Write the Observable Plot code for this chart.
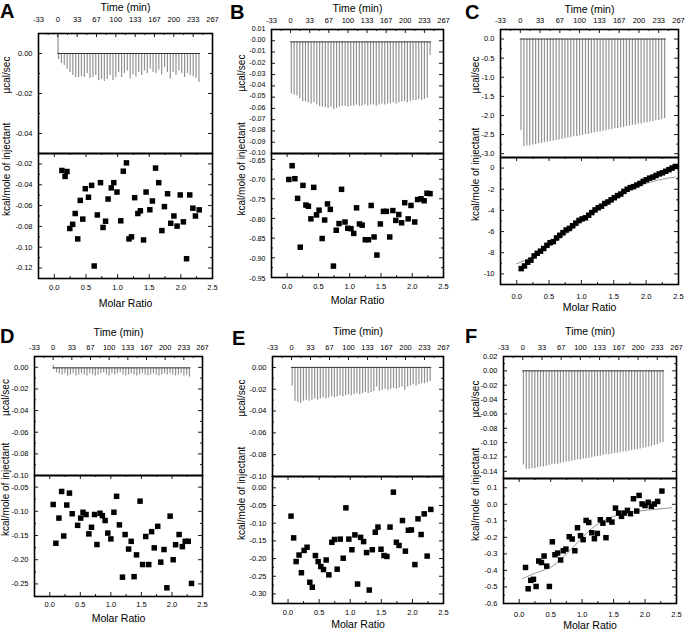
<!DOCTYPE html>
<html><head><meta charset="utf-8">
<script src="https://cdn.jsdelivr.net/npm/d3@7"></script>
<script src="https://cdn.jsdelivr.net/npm/@observablehq/plot@0.6"></script>
<style>
body{margin:0;background:#fff;}
#fig{position:relative;width:685px;height:631px;overflow:hidden;font-family:Arial,"Liberation Sans",sans-serif;background:#fff;}
#fig svg{position:absolute;left:0;top:0;}
.lbl{position:absolute;font-weight:bold;font-size:20px;line-height:20px;font-family:Arial,"Liberation Sans",sans-serif;}
</style></head><body><div id="fig"></div>
<script>
// ---------- shared axis data ----------
const timeTicks = [-33.33, 0, 33.33, 66.67, 100, 133.33, 166.67, 200, 233.33, 266.67];
const timeMinor = [-16.67, 16.67, 50, 83.33, 116.67, 150, 183.33, 216.67, 250];
const ratioTicks = [0, 0.5, 1, 1.5, 2, 2.5];
const ratioMinor = [0.25, 0.75, 1.25, 1.75, 2.25];
const injTimes = [1.2,6.1,11.1,16.0,21.0,25.9,30.8,35.8,40.7,45.7,50.6,55.5,60.5,65.4,70.4,75.3,80.2,85.2,90.1,95.1,100.0,104.9,109.9,114.8,119.8,124.7,129.6,134.6,139.5,144.5,149.4,154.3,159.3,164.2,169.2,174.1,179.0,184.0,188.9,193.9,198.8,203.7,208.7,213.6,218.6,223.5,228.4,233.4,238.3,243.3];

// ---------- raw thermograms: peak depth per injection (µcal/sec) ----------
const rawA = [-0.003,-0.005,-0.006,-0.008,-0.0095,-0.011,-0.012,-0.012,-0.0115,-0.012,-0.010,-0.0125,-0.012,-0.011,-0.0135,-0.013,-0.014,-0.013,-0.011,-0.0135,-0.012,-0.0095,-0.012,-0.010,-0.0087,-0.0128,-0.0107,-0.0117,-0.0095,-0.011,-0.0087,-0.010,-0.0078,-0.0095,-0.010,-0.0083,-0.0107,-0.007,-0.0095,-0.0128,-0.0095,-0.011,-0.0087,-0.010,-0.012,-0.010,-0.011,-0.0118,-0.0125,-0.0145];
const rawB = [-0.047,-0.048,-0.049,-0.0515,-0.054,-0.054,-0.055,-0.056,-0.055,-0.057,-0.0585,-0.059,-0.059,-0.06,-0.059,-0.061,-0.060,-0.059,-0.058,-0.058,-0.059,-0.058,-0.058,-0.057,-0.058,-0.058,-0.057,-0.058,-0.057,-0.057,-0.058,-0.057,-0.056,-0.057,-0.056,-0.056,-0.055,-0.056,-0.055,-0.054,-0.054,-0.055,-0.054,-0.053,-0.053,-0.052,-0.053,-0.052,-0.051,-0.013];
const rawC = [-2.40,-2.81,-2.80,-2.79,-2.77,-2.76,-2.74,-2.73,-2.71,-2.70,-2.68,-2.67,-2.65,-2.64,-2.62,-2.61,-2.59,-2.58,-2.56,-2.55,-2.53,-2.52,-2.50,-2.49,-2.47,-2.46,-2.44,-2.43,-2.41,-2.40,-2.38,-2.37,-2.35,-2.34,-2.32,-2.31,-2.29,-2.28,-2.26,-2.25,-2.23,-2.22,-2.20,-2.19,-2.17,-2.16,-2.14,-2.13,-2.11,-2.08];
const rawD = [-0.002,-0.005,-0.006,-0.007,-0.006,-0.008,-0.007,-0.006,-0.008,-0.007,-0.006,-0.007,-0.008,-0.006,-0.007,-0.008,-0.007,-0.006,-0.005,-0.007,-0.008,-0.006,-0.007,-0.006,-0.005,-0.007,-0.008,-0.007,-0.006,-0.007,-0.008,-0.007,-0.006,-0.007,-0.008,-0.007,-0.006,-0.007,-0.008,-0.007,-0.006,-0.007,-0.006,-0.007,-0.008,-0.007,-0.006,-0.008,-0.007,-0.009];
const rawE = [-0.017,-0.031,-0.032,-0.033,-0.031,-0.030,-0.031,-0.030,-0.029,-0.030,-0.029,-0.028,-0.029,-0.028,-0.027,-0.028,-0.027,-0.026,-0.027,-0.026,-0.025,-0.026,-0.025,-0.024,-0.025,-0.024,-0.023,-0.024,-0.023,-0.022,-0.018,-0.022,-0.021,-0.020,-0.021,-0.020,-0.019,-0.020,-0.019,-0.018,-0.021,-0.018,-0.017,-0.016,-0.017,-0.016,-0.015,-0.015,-0.014,-0.013];
const rawF = [-0.131,-0.137,-0.137,-0.136,-0.136,-0.135,-0.134,-0.134,-0.133,-0.132,-0.131,-0.130,-0.130,-0.129,-0.128,-0.127,-0.127,-0.126,-0.125,-0.124,-0.124,-0.123,-0.122,-0.122,-0.121,-0.120,-0.119,-0.119,-0.118,-0.117,-0.117,-0.116,-0.115,-0.115,-0.114,-0.113,-0.113,-0.112,-0.111,-0.110,-0.110,-0.109,-0.108,-0.107,-0.106,-0.105,-0.104,-0.103,-0.101,-0.100];
const baseA = 0, baseB = -0.001, baseC = 0, baseD = -0.0005, baseE = 0, baseF = 0;
// upward start-up spikes at the beginning of a run (time, value)
const upTimesA = [0.3], upValsA = [0.009];
const upTimesD = [0.3], upValsD = [0.002];

// ---------- integrated heats (kcal/mole of injectant) vs molar ratio ----------
const ratioA = [0.12,0.17,0.20,0.245,0.29,0.33,0.37,0.41,0.45,0.49,0.54,0.59,0.63,0.68,0.73,0.77,0.81,0.85,0.90,0.94,0.99,1.05,1.09,1.14,1.18,1.22,1.27,1.32,1.36,1.41,1.45,1.51,1.55,1.60,1.65,1.70,1.74,1.79,1.84,1.89,1.94,1.99,2.04,2.09,2.14,2.19,2.23,2.29];
const heatA = [-0.0263,-0.032,-0.0273,-0.082,-0.078,-0.0676,-0.092,-0.055,-0.073,-0.0438,-0.052,-0.0406,-0.118,-0.069,-0.038,-0.081,-0.075,-0.0537,-0.043,-0.038,-0.047,-0.0746,-0.027,-0.019,-0.092,-0.090,-0.0524,-0.0676,-0.065,-0.093,-0.047,-0.064,-0.0556,-0.024,-0.038,-0.084,-0.061,-0.0486,-0.077,-0.070,-0.0797,-0.0498,-0.0756,-0.111,-0.0498,-0.0625,-0.070,-0.0641];
const ratioB = [0.027,0.08,0.124,0.167,0.21,0.253,0.30,0.34,0.38,0.425,0.47,0.51,0.56,0.60,0.645,0.69,0.74,0.785,0.83,0.87,0.925,0.97,1.02,1.065,1.11,1.156,1.20,1.25,1.30,1.344,1.39,1.435,1.49,1.54,1.586,1.64,1.69,1.737,1.785,1.83,1.88,1.935,1.98,2.04,2.086,2.14,2.19,2.236,2.285];
const heatB = [-0.701,-0.666,-0.699,-0.749,-0.873,-0.716,-0.766,-0.769,-0.801,-0.721,-0.791,-0.779,-0.851,-0.804,-0.763,-0.777,-0.921,-0.83,-0.813,-0.726,-0.809,-0.825,-0.826,-0.838,-0.773,-0.814,-0.817,-0.854,-0.854,-0.767,-0.847,-0.893,-0.814,-0.782,-0.782,-0.847,-0.780,-0.805,-0.79,-0.811,-0.76,-0.801,-0.767,-0.809,-0.752,-0.75,-0.755,-0.736,-0.737];
const ratioC = [0.07,0.12,0.17,0.22,0.27,0.318,0.368,0.417,0.467,0.516,0.566,0.616,0.665,0.715,0.764,0.814,0.864,0.913,0.963,1.012,1.062,1.112,1.161,1.211,1.26,1.31,1.36,1.409,1.459,1.508,1.558,1.608,1.657,1.707,1.756,1.806,1.856,1.905,1.955,2.004,2.054,2.104,2.153,2.203,2.252,2.302,2.352,2.401,2.451];
const heatC = [-9.5,-9.25,-8.9,-8.7,-8.3,-8.05,-7.85,-7.6,-7.3,-7.05,-6.95,-6.6,-6.35,-6.1,-5.85,-5.7,-5.45,-5.2,-4.95,-4.8,-4.7,-4.45,-4.2,-3.95,-3.75,-3.6,-3.35,-3.2,-3.0,-2.8,-2.6,-2.45,-2.2,-2.0,-1.85,-1.75,-1.6,-1.45,-1.25,-1.1,-0.95,-0.85,-0.7,-0.55,-0.45,-0.3,-0.15,0.0,0.15];
const fitCx = [0.0,0.25,0.5,0.75,1.0,1.25,1.5,1.75,2.0,2.25,2.45];
const fitCy = [-9.05,-8.35,-7.4,-6.3,-5.1,-3.95,-2.95,-2.05,-1.45,-1.05,-0.85];
const ratioD = [0.056,0.10,0.15,0.194,0.228,0.278,0.322,0.367,0.456,0.506,0.544,0.594,0.64,0.683,0.733,0.772,0.822,0.861,0.906,0.95,1.0,1.05,1.094,1.14,1.19,1.233,1.29,1.333,1.38,1.42,1.478,1.52,1.57,1.62,1.667,1.71,1.767,1.817,1.87,1.917,1.97,2.02,2.06,2.117,2.17,2.217,2.267,2.32];
const heatD = [-0.0859,-0.166,-0.114,-0.059,-0.151,-0.087,-0.0624,-0.105,-0.129,-0.114,-0.102,-0.1066,-0.1466,-0.133,-0.1066,-0.1686,-0.104,-0.109,-0.119,-0.145,-0.157,-0.102,-0.069,-0.128,-0.236,-0.148,-0.178,-0.162,-0.235,-0.19,-0.079,-0.21,-0.152,-0.21,-0.142,-0.1755,-0.131,-0.205,-0.179,-0.258,-0.11,-0.2,-0.169,-0.148,-0.173,-0.162,-0.162,-0.249];
const ratioE = [0.048,0.09,0.13,0.177,0.215,0.258,0.306,0.35,0.39,0.44,0.484,0.527,0.57,0.613,0.656,0.704,0.747,0.79,0.84,0.887,0.93,0.978,1.027,1.075,1.118,1.167,1.215,1.263,1.306,1.355,1.403,1.446,1.495,1.543,1.59,1.64,1.694,1.742,1.785,1.84,1.887,1.935,1.984,2.04,2.09,2.14,2.19,2.237,2.296];
const heatE = [-0.080,-0.1415,-0.2085,-0.19,-0.24,-0.177,-0.168,-0.267,-0.281,-0.1915,-0.2085,-0.2226,-0.231,-0.204,-0.246,-0.154,-0.146,-0.230,-0.145,-0.199,-0.0566,-0.145,-0.175,-0.133,-0.272,-0.140,-0.152,-0.183,-0.289,-0.175,-0.1255,-0.111,-0.1736,-0.1915,-0.194,-0.111,-0.0123,-0.154,-0.163,-0.0925,-0.179,-0.12,-0.119,-0.217,-0.0877,-0.132,-0.0736,-0.193,-0.061];
const ratioF = [0.1,0.142,0.184,0.226,0.268,0.31,0.353,0.395,0.437,0.479,0.526,0.568,0.61,0.658,0.7,0.742,0.795,0.842,0.884,0.926,0.974,1.016,1.063,1.105,1.153,1.195,1.242,1.289,1.33,1.379,1.426,1.474,1.53,1.58,1.626,1.668,1.72,1.768,1.816,1.868,1.905,1.953,2.0,2.05,2.1,2.147,2.2,2.268];
const heatF = [-0.382,-0.511,-0.46,-0.454,-0.497,-0.343,-0.352,-0.313,-0.374,-0.497,-0.227,-0.305,-0.295,-0.337,-0.281,-0.271,-0.196,-0.21,-0.281,-0.142,-0.19,-0.214,-0.0976,-0.11,-0.172,-0.208,-0.176,-0.0935,-0.114,-0.202,-0.0935,-0.1077,-0.023,-0.053,-0.073,-0.053,-0.037,-0.057,0.0335,-0.041,0.0536,0.002,-0.0077,0.012,-0.012,0.002,0.0173,0.08];
const fitFx = [0.05,0.3,0.5,0.7,0.9,1.1,1.3,1.5,1.8,2.1,2.42];
const fitFy = [-0.45,-0.41,-0.38,-0.32,-0.243,-0.164,-0.108,-0.073,-0.047,-0.033,-0.021];

// ---------- axis tick values ----------
const rawTicksA = [0, -0.02, -0.04], rawMinorA = [0.01, -0.01, -0.03, -0.05];
const heatTicksA = [-0.02,-0.04,-0.06,-0.08,-0.10,-0.12], heatMinorA = [-0.03,-0.05,-0.07,-0.09,-0.11];
const rawTicksB = [0.01,0,-0.01,-0.02,-0.03,-0.04,-0.05,-0.06,-0.07,-0.08,-0.09,-0.10], rawMinorB = [];
const heatTicksB = [-0.65,-0.70,-0.75,-0.80,-0.85,-0.90,-0.95], heatMinorB = [-0.675,-0.725,-0.775,-0.825,-0.875,-0.925];
const rawTicksC = [0,-0.5,-1,-1.5,-2,-2.5,-3], rawMinorC = [-0.25,-0.75,-1.25,-1.75,-2.25,-2.75];
const heatTicksC = [0,-2,-4,-6,-8,-10], heatMinorC = [1,-1,-3,-5,-7,-9,-11];
const rawTicksD = [0,-0.02,-0.04,-0.06,-0.08,-0.10], rawMinorD = [0.01,-0.01,-0.03,-0.05,-0.07,-0.09];
const heatTicksD = [-0.05,-0.10,-0.15,-0.20,-0.25], heatMinorD = [-0.075,-0.125,-0.175,-0.225];
const rawTicksE = [0,-0.02,-0.04,-0.06,-0.08,-0.10], rawMinorE = [0.01,-0.01,-0.03,-0.05,-0.07,-0.09];
const heatTicksE = [0,-0.05,-0.10,-0.15,-0.20,-0.25,-0.30], heatMinorE = [0.025,-0.025,-0.075,-0.125,-0.175,-0.225,-0.275];
const rawTicksF = [0.02,0,-0.02,-0.04,-0.06,-0.08,-0.10,-0.12,-0.14], rawMinorF = [0.01,-0.01,-0.03,-0.05,-0.07,-0.09,-0.11,-0.13];
const heatTicksF = [0.1,0,-0.1,-0.2,-0.3,-0.4,-0.5,-0.6], heatMinorF = [0.05,-0.05,-0.15,-0.25,-0.35,-0.45,-0.55];

// ---------- layout (pixel geometry of each panel) ----------
const W = 685, H = 631;
// L,R: frame x; T: top of raw plot; M: divider; B: bottom of heat plot
// tty: time title y, tly: time tick label y, mly: ratio tick label y, mty: ratio title y, ytx: y-title x
const panels = [
  {id:"A", L:38, R:212, T:33, M:153, B:278, lx:0, ly:1, tty:7, tly:19, mly:287, mty:303, ytx:6, yfs:7.5, rdy:0, hdy:0,
   raw:rawA, base:baseA, up:[upTimesA, upValsA], rawDom:[-0.05,0.01], rT:rawTicksA, rM:rawMinorA, rd:2,
   rx:ratioA, hy:heatA, hDom:[-0.13,-0.01], hT:heatTicksA, hM:heatMinorA, hd:2},
  {id:"B", L:271, R:443, T:29, M:153, B:277, lx:230, ly:2, tty:8, tly:20, mly:286, mty:300, ytx:241, yfs:7.1, rdy:-1, hdy:1,
   raw:rawB, base:baseB, rawDom:[-0.10,0.01], rT:rawTicksB, rM:rawMinorB, rd:2,
   rx:ratioB, hy:heatB, hDom:[-0.95,-0.635], hT:heatTicksB, hM:heatMinorB, hd:2},
  {id:"C", L:500, R:678, T:29, M:157, B:284, lx:465, ly:2, tty:9, tly:20, mly:296, mty:307, ytx:475, yfs:7.5, rdy:0, hdy:0,
   raw:rawC, base:baseC, rawDom:[-3.1,0.25], rT:rawTicksC, rM:rawMinorC, rd:1,
   rx:ratioC, hy:heatC, hDom:[-11,1], hT:heatTicksC, hM:heatMinorC, hd:0, fx:fitCx, fy:fitCy},
  {id:"D", L:34, R:202, T:356, M:475, B:596, lx:0, ly:326, tty:332, tly:347, mly:604, mty:618, ytx:5, yfs:7.5, rdy:0, hdy:0,
   raw:rawD, base:baseD, up:[upTimesD, upValsD], rawDom:[-0.10,0.01], rT:rawTicksD, rM:rawMinorD, rd:2,
   rx:ratioD, hy:heatD, hDom:[-0.276,-0.026], hT:heatTicksD, hM:heatMinorD, hd:2},
  {id:"E", L:272, R:443, T:356, M:476, B:603, lx:232, ly:328, tty:331, tly:347, mly:612, mty:624, ytx:241, yfs:7.5, rdy:0, hdy:0,
   raw:rawE, base:baseE, rawDom:[-0.10,0.01], rT:rawTicksE, rM:rawMinorE, rd:2,
   rx:ratioE, hy:heatE, hDom:[-0.327,0.032], hT:heatTicksE, hM:heatMinorE, hd:2},
  {id:"F", L:503, R:676, T:356, M:478, B:603, lx:465, ly:326, tty:331, tly:347, mly:614, mty:625, ytx:475, yfs:7.5, rdy:0, hdy:0,
   raw:rawF, base:baseF, rawDom:[-0.15,0.02], rT:rawTicksF, rM:rawMinorF, rd:2,
   rx:ratioF, hy:heatF, hDom:[-0.6,0.156], hT:heatTicksF, hM:heatMinorF, hd:1, fx:fitFx, fy:fitFy}
];

const FONT = "Arial, 'Liberation Sans', sans-serif";
const baseStyle = {background:"transparent", overflow:"visible", fontFamily:FONT, fontSize:"7.5px", color:"#000"};
const fmt = d => v => v.toFixed(d);

function xTicksIn(vals, innerH, len, where) {
  return Plot.tickX(vals, {x: d => d, stroke:"#000", strokeWidth:0.9,
    ...(where === "bottom" ? {insetTop: innerH - len} : {insetBottom: innerH - len})});
}
function yTicksIn(vals, innerW, len, where) {
  return Plot.tickY(vals, {y: d => d, stroke:"#000", strokeWidth:0.9,
    ...(where === "left" ? {insetRight: innerW - len} : {insetLeft: innerW - len})});
}

function topPlot(p) {
  const iw = p.R - p.L, ih = p.M - p.T;
  const peaks = p.raw.map((d, i) => ({t: injTimes[i], d}));
  const ups = p.up ? p.up[0].map((t, i) => ({t, d: p.up[1][i]})) : [];
  return Plot.plot({
    width: W, height: H,
    marginLeft: p.L, marginRight: W - p.R, marginTop: p.T, marginBottom: H - p.M,
    style: baseStyle,
    x: {domain: [-33.33, 266.67]},
    y: {domain: p.rawDom},
    marks: [
      Plot.ruleX(peaks, {x: "t", y1: p.base, y2: "d", stroke: "#929292", strokeWidth: 1.2}),
      Plot.ruleX(ups, {x: "t", y1: p.base, y2: "d", stroke: "#929292", strokeWidth: 1.2}),
      Plot.ruleY([p.base], {x1: 0, x2: 246, stroke: "#222", strokeWidth: 0.9}),
      xTicksIn(timeTicks, ih, 4, "top"), xTicksIn(timeMinor, ih, 2, "top"),
      yTicksIn(p.rT, iw, 4, "left"), yTicksIn(p.rM, iw, 2, "left"),
      yTicksIn(p.rT, iw, 4, "right"), yTicksIn(p.rM, iw, 2, "right"),
      Plot.axisX(timeTicks, {anchor: "top", tickSize: 0, tickPadding: 0, lineAnchor: "middle", dy: p.tly - p.T, tickFormat: d => String(Math.round(d)), label: null, fontSize: 7.5}),
      Plot.axisY(p.rT, {anchor: "left", tickSize: 0, tickPadding: 6, dy: p.rdy, tickFormat: fmt(p.rd), label: null, fontSize: p.yfs}),
      Plot.frame({stroke: "#000", strokeWidth: 1.6}),
      Plot.text(["Time (min)"], {frameAnchor: "top", lineAnchor: "middle", dy: p.tty - p.T, fontSize: 10.5}),
      Plot.text(["µcal/sec"], {frameAnchor: "left", dx: p.ytx - p.L, rotate: -90, fontSize: 10})
    ]
  });
}

function bottomPlot(p) {
  const iw = p.R - p.L, ih = p.B - p.M;
  const pts = p.rx.map((x, i) => ({x, y: p.hy[i]}));
  const marks = [];
  if (p.fx) marks.push(Plot.line(p.fx.map((x, i) => ({x, y: p.fy[i]})), {x: "x", y: "y", curve: "natural", stroke: "#8a8a8a", strokeWidth: 0.9}));
  marks.push(
    Plot.dot(pts, {x: "x", y: "y", symbol: "square", fill: "#000", r: 3.1}),
    xTicksIn(ratioTicks, ih, 4, "bottom"), xTicksIn(ratioMinor, ih, 2, "bottom"),
    xTicksIn(ratioTicks, ih, 4, "top"), xTicksIn(ratioMinor, ih, 2, "top"),
    yTicksIn(p.hT, iw, 4, "left"), yTicksIn(p.hM, iw, 2, "left"),
    yTicksIn(p.hT, iw, 4, "right"), yTicksIn(p.hM, iw, 2, "right"),
    Plot.axisX(ratioTicks, {anchor: "bottom", tickSize: 0, tickPadding: 0, lineAnchor: "middle", dy: p.mly - p.B, tickFormat: fmt(1), label: null, fontSize: 7.5}),
    Plot.axisY(p.hT, {anchor: "left", tickSize: 0, tickPadding: 6, dy: p.hdy, tickFormat: fmt(p.hd), label: null, fontSize: p.yfs}),
    Plot.frame({stroke: "#000", strokeWidth: 1.6}),
    Plot.text(["Molar Ratio"], {frameAnchor: "bottom", lineAnchor: "middle", dy: p.mty - p.B, fontSize: 10.5}),
    Plot.text(["kcal/mole of injectant"], {frameAnchor: "left", dx: p.ytx - p.L, rotate: -90, fontSize: 10})
  );
  return Plot.plot({
    width: W, height: H,
    marginLeft: p.L, marginRight: W - p.R, marginTop: p.M, marginBottom: H - p.B,
    style: baseStyle,
    x: {domain: [-0.25, 2.5]},
    y: {domain: p.hDom},
    marks
  });
}

const fig = document.getElementById("fig");
for (const p of panels) {
  fig.appendChild(topPlot(p));
  fig.appendChild(bottomPlot(p));
  const l = document.createElement("div");
  l.className = "lbl"; l.textContent = p.id;
  l.style.left = p.lx + "px"; l.style.top = p.ly + "px";
  fig.appendChild(l);
}
</script></body></html>
